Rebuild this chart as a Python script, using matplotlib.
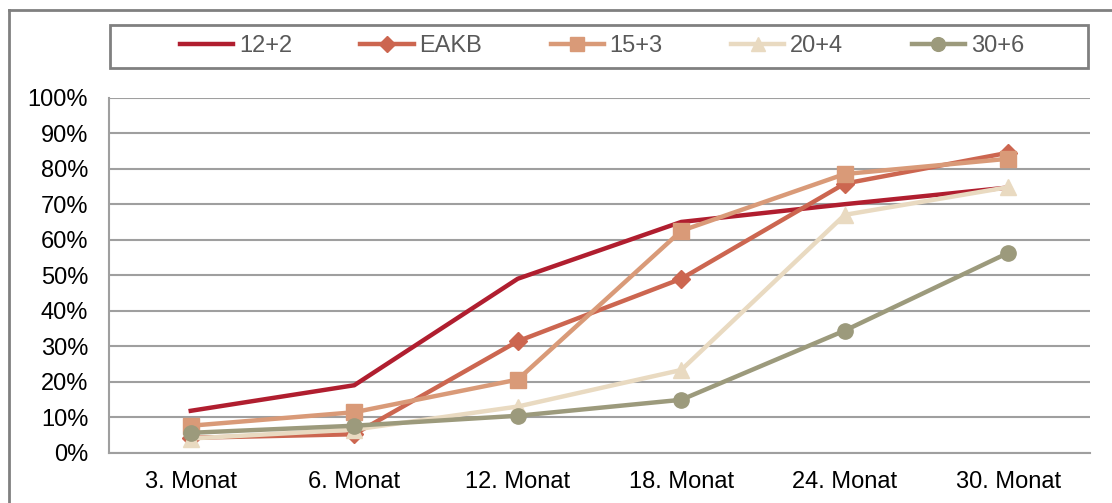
import matplotlib.pyplot as plt
from matplotlib import ticker
from matplotlib.lines import Line2D

plt.rcParams['font.family'] = ['Liberation Sans', 'DejaVu Sans']

months = ['3. Monat', '6. Monat', '12. Monat', '18. Monat', '24. Monat', '30. Monat']
series_names = ['12+2', 'EAKB', '15+3', '20+4', '30+6']

# percent values
v_12_2 = [11.8, 19.0, 49.0, 65.0, 70.0, 74.7]
v_eakb = [4.2, 5.2, 31.4, 49.0, 75.8, 84.5]
v_15_3 = [7.6, 11.4, 20.6, 62.5, 78.5, 82.8]
v_20_4 = [4.0, 6.5, 13.0, 23.3, 67.0, 74.8]
v_30_6 = [5.6, 7.6, 10.4, 14.9, 34.4, 56.3]

colors = ['#B01E2F', '#CC6650', '#D99A78', '#E9DAC1', '#9C9A7C']
markers = ['None', 'D', 's', '^', 'o']
msizes = [0, 9, 11, 11, 11]

fig = plt.figure(figsize=(11.12, 5.03), dpi=100)
ax = fig.add_axes([109 / 1112, 1 - 452.7 / 503, 981 / 1112, 355 / 503])

x = list(range(len(months)))
all_vals = [v_12_2, v_eakb, v_15_3, v_20_4, v_30_6]
handles = []
for name, vals, c, m, ms in zip(series_names, all_vals, colors, markers, msizes):
    ax.plot(x, [v / 100 for v in vals], color=c, lw=3.2, marker=m, ms=ms,
            markeredgecolor=c, markerfacecolor=c, solid_joinstyle='miter', zorder=3)
    handles.append(Line2D([], [], color=c, lw=3.2, marker=m, ms=ms * 0.9,
                          markeredgecolor=c, markerfacecolor=c))

ax.set_xlim(-0.5, 5.5)
ax.set_ylim(0, 1)
ax.set_yticks([i / 10 for i in range(11)])
ax.yaxis.set_major_formatter(ticker.PercentFormatter(xmax=1, decimals=0))
ax.set_xticks(x)
ax.set_xticklabels(months)
ax.yaxis.grid(True, color='#9f9f9f', lw=1.5)
ax.set_axisbelow(True)
for s in ['top', 'right']:
    ax.spines[s].set_visible(False)
for s in ['left', 'bottom']:
    ax.spines[s].set_color('#9f9f9f')
    ax.spines[s].set_linewidth(1.5)
ax.tick_params(axis='both', length=0, labelsize=17, colors='black')
ax.tick_params(axis='y', pad=15)
ax.tick_params(axis='x', pad=13)

# legend, framed by a plain rectangle
fig.legend(handles, series_names, loc='center', bbox_to_anchor=(602 / 1112, 1 - 46.5 / 503),
           ncol=5, frameon=False, fontsize=17, labelcolor='#595959',
           handlelength=2.25, handletextpad=0.25, columnspacing=2.9)
fig.add_artist(plt.Rectangle((110 / 1112, 1 - 68 / 503), 978 / 1112, 43 / 503,
                             transform=fig.transFigure, fill=False,
                             edgecolor='#808080', lw=2))

# outer chart frame (top and left edges visible)
fig.add_artist(Line2D([9 / 1112, 1], [1 - 10 / 503, 1 - 10 / 503],
                      transform=fig.transFigure, color='#808080', lw=2))
fig.add_artist(Line2D([9 / 1112, 9 / 1112], [0, 1 - 10 / 503],
                      transform=fig.transFigure, color='#808080', lw=2))

fig.savefig('out.png', dpi=100)
